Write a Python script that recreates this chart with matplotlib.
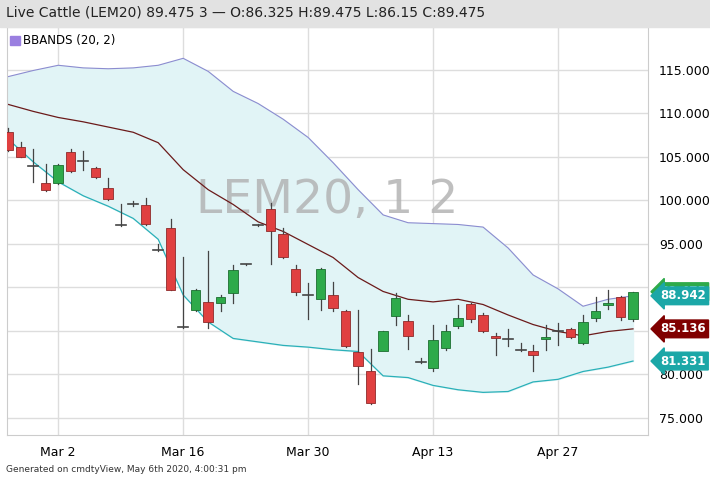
import matplotlib
matplotlib.use("Agg")
import matplotlib.pyplot as plt
from matplotlib.patches import Rectangle

# daily OHLC, Feb 25 .. May 5 2020 (trading-day index)
opens = [107.8, 106.1, 103.9, 102.0, 102.0, 105.5, 104.3, 103.7, 101.4, 97.1,
         99.5, 99.4, 94.3, 96.8, 85.4, 87.4, 88.3, 88.2, 89.3, 92.6,
         97.1, 99.0, 96.1, 92.1, 89.1, 88.6, 89.1, 87.3, 82.5, 80.3,
         82.6, 86.7, 86.1, 81.4, 80.7, 83.0, 85.5, 88.1, 86.8, 84.4,
         84.2, 83.0, 82.6, 84.0, 84.9, 85.2, 83.6, 86.5, 87.9, 88.9, 86.3]
closes = [105.8, 105.0, 103.9, 101.2, 104.0, 103.4, 104.5, 102.6, 100.1, 97.1,
          99.5, 97.2, 94.3, 89.7, 85.4, 89.7, 86.0, 88.9, 92.0, 92.6,
          97.1, 96.4, 93.5, 89.4, 89.1, 92.1, 87.6, 83.2, 80.9, 76.7,
          84.9, 88.8, 84.4, 81.4, 83.9, 84.9, 86.4, 86.3, 85.0, 84.1,
          84.0, 82.8, 82.2, 84.3, 84.9, 84.3, 86.0, 87.3, 88.2, 86.6, 89.475]
highs = [108.3, 106.7, 105.9, 104.1, 104.2, 105.9, 105.7, 103.8, 102.5, 99.5,
         99.9, 100.3, 94.9, 97.8, 93.5, 89.8, 94.2, 89.1, 92.5, 92.7,
         97.2, 99.7, 96.8, 92.5, 90.5, 92.2, 90.6, 87.4, 87.4, 82.9,
         85.0, 89.3, 86.8, 81.8, 85.6, 85.6, 87.9, 88.2, 87.0, 84.7,
         85.2, 83.6, 83.4, 85.6, 85.9, 85.3, 86.8, 88.9, 89.7, 89.0, 89.475]
lows = [105.6, 104.9, 102.1, 101.0, 101.9, 103.2, 103.5, 102.5, 100.0, 97.0,
        99.3, 97.1, 94.2, 89.7, 85.3, 87.2, 85.3, 87.2, 88.2, 92.5,
        97.0, 92.6, 93.4, 89.1, 86.3, 87.4, 87.2, 83.1, 78.9, 76.6,
        84.8, 85.7, 82.9, 81.3, 80.4, 82.8, 85.3, 86.0, 84.8, 82.2,
        83.2, 82.6, 80.4, 82.8, 83.3, 84.1, 83.5, 86.1, 87.5, 86.2, 86.15]

# Bollinger bands, sampled every second session
band_idx = list(range(0, 51, 2))
upper = [114.2, 114.9, 115.5, 115.2, 115.1, 115.2, 115.5, 116.3, 114.8, 112.5,
         111.1, 109.3, 107.2, 104.3, 101.2, 98.3, 97.4, 97.3, 97.2, 96.9,
         94.5, 91.4, 89.8, 87.8, 88.6, 89.0]
middle = [111.0, 110.2, 109.5, 109.0, 108.4, 107.8, 106.6, 103.5, 101.2, 99.5,
          97.5, 96.4, 94.9, 93.4, 91.1, 89.5, 88.6, 88.3, 88.6, 88.0,
          86.8, 85.7, 84.9, 84.4, 84.9, 85.2]
lower = [107.0, 104.4, 102.1, 100.5, 99.3, 97.9, 95.5, 89.1, 86.0, 84.1,
         83.7, 83.3, 83.1, 82.8, 82.6, 79.8, 79.6, 78.7, 78.2, 77.9,
         78.0, 79.1, 79.4, 80.3, 80.8, 81.5]

tick_pos = [4, 14, 24, 34, 44]
tick_labels = ["Mar 2", "Mar 16", "Mar 30", "Apr 13", "Apr 27"]
y_ticks = [75, 80, 85, 90, 95, 100, 105, 110, 115]

fig = plt.figure(figsize=(7.1, 4.78), dpi=100)
W, H = 710, 478
fig.patches.append(Rectangle((0, 1 - 27 / H), 1, 27 / H, transform=fig.transFigure,
                             color="#e2e2e2", zorder=0))
fig.text(6 / W, 1 - 13 / H, "Live Cattle (LEM20) 89.475 3 \u2014 O:86.325 H:89.475 L:86.15 C:89.475",
         fontsize=10, va="center", color="#222222")
fig.text(6 / W, 8 / H, "Generated on cmdtyView, May 6th 2020, 4:00:31 pm",
         fontsize=6.5, va="center", color="#333333")

ax = fig.add_axes([7 / W, 43 / H, 641 / W, 408 / H])
ax.set_xlim(-0.1, 51.2)
ax.set_ylim(73.0, 119.9)

ax.fill_between(band_idx, lower, upper, color="#e1f4f6", zorder=1)
ax.plot(band_idx, upper, color="#8c8cd0", lw=0.8, zorder=2)
ax.plot(band_idx, middle, color="#6b1a1a", lw=0.9, zorder=2)
ax.plot(band_idx, lower, color="#2ab0b8", lw=0.9, zorder=2)

ax.text(25.5, 100, "LEM20, 1 2", fontsize=34, color="#b0b0b0", alpha=0.8,
        ha="center", va="center", zorder=1)

for i in range(len(opens)):
    o, c, h, l = opens[i], closes[i], highs[i], lows[i]
    ax.plot([i, i], [l, h], color="#444444", lw=0.9, zorder=3)
    if abs(c - o) < 0.25:
        ax.plot([i - 0.4, i + 0.4], [c, c], color="#444444", lw=1.2, zorder=4)
        continue
    col = "#2eaa4a" if c > o else "#e04040"
    edge = "#1c6e30" if c > o else "#8e2a2a"
    ax.add_patch(Rectangle((i - 0.38, min(o, c)), 0.76, abs(c - o), facecolor=col,
                           edgecolor=edge, lw=0.6, zorder=4))

ax.set_xticks(tick_pos)
ax.set_xticklabels(tick_labels, fontsize=9)
ax.set_yticks(y_ticks)
ax.set_yticklabels(["%.3f" % v for v in y_ticks], fontsize=9)
ax.yaxis.tick_right()
ax.tick_params(length=0, pad=8)
ax.grid(True, color="#dddddd", lw=1)
ax.set_axisbelow(True)
for s in ax.spines.values():
    s.set_color("#cccccc")

# legend
ax.add_patch(Rectangle((0.005, 0.955), 0.015, 0.022, transform=ax.transAxes,
                       color="#9a7fe0", zorder=5))
ax.text(0.025, 0.966, "BBANDS (20, 2)", transform=ax.transAxes, fontsize=8.5,
        va="center", zorder=5)

# value tags
tags = [(closes[-1], "89.475", "#2eaa4a"), (upper[-1], "88.942", "#1ba7a7"),
        (middle[-1], "85.136", "#800000"), (lower[-1], "81.331", "#1ba7a7")]
for v, txt, col in tags:
    ax.annotate(txt, xy=(1.0, v), xycoords=("axes fraction", "data"),
                xytext=(9, 0), textcoords="offset points", fontsize=8.5,
                fontweight="bold", color="white", va="center", ha="left",
                bbox=dict(boxstyle="larrow,pad=0.2", fc=col, ec=col),
                annotation_clip=False)

fig.savefig("out.png", dpi=100)
